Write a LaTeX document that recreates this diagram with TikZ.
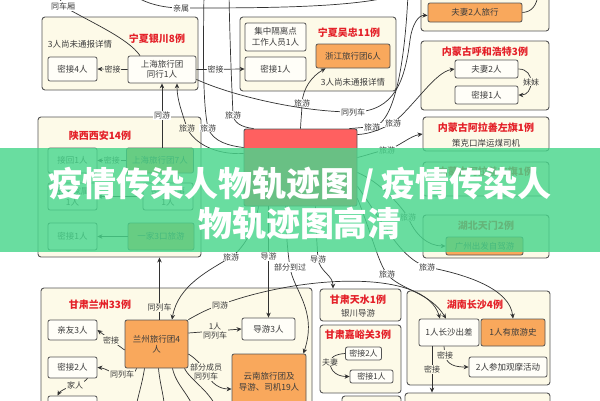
\documentclass[tikz,border=0pt]{standalone}
\usepackage{fontspec}
\setmainfont{Noto Sans CJK SC}
\usetikzlibrary{arrows.meta}
\definecolor{cream}{RGB}{253,250,232}
\definecolor{innerc}{RGB}{255,254,248}
\definecolor{bd}{RGB}{85,85,85}
\definecolor{org}{RGB}{249,168,92}
\definecolor{ttlred}{RGB}{228,32,40}
\definecolor{lnc}{RGB}{50,50,50}
\definecolor{redbox}{RGB}{255,96,96}
\definecolor{band}{RGB}{72,214,140}
\definecolor{txt}{RGB}{60,60,60}
\tikzset{
  grp/.style={draw=bd, fill=cream, rounded corners=3pt, line width=0.9pt, inner sep=0pt},
  ibox/.style={draw=bd, fill=innerc, rounded corners=2pt, line width=0.8pt, inner sep=1pt, align=center, font=\fontsize{8.5}{10.5}\selectfont, text=txt},
  obox/.style={ibox, fill=org},
  sbox/.style={ibox, font=\fontsize{8}{9}\selectfont},
  gtitle/.style={font=\bfseries\fontsize{10}{12}\selectfont, text=ttlred, inner sep=0pt},
  note/.style={font=\fontsize{8.5}{10}\selectfont, text=txt, inner sep=0pt},
  lbl/.style={font=\fontsize{8}{9.5}\selectfont, text=txt, fill=white, inner sep=0.8pt, align=center},
  lblc/.style={lbl, fill=cream},
  arr/.style={draw=lnc, line width=0.7pt, -{Stealth[length=5pt,width=4.5pt]}},
  ln/.style={draw=lnc, line width=0.7pt},
  bigt/.style={font=\bfseries\fontsize{34}{40}\selectfont, text=white, align=center}
}
\begin{document}
\begin{tikzpicture}[x=1pt,y=-1pt]
\useasboundingbox (0,0) rectangle (600,400);
\clip (0,0) rectangle (600,400);
\fill[white] (0,0) rectangle (600,400);

% groups
\node[grp, minimum width=156pt, minimum height=73pt] (g1) at (120,53.5) {};
\node[grp, minimum width=156pt, minimum height=74pt] (g2) at (318,54) {};
\node[grp, minimum width=128pt, minimum height=51pt] (g3) at (485,5.5) {};
\node[grp, minimum width=128pt, minimum height=69pt] (g4) at (485,75.5) {};
\node[grp, minimum width=126pt, minimum height=34pt] (g5) at (486,134) {};
\node[grp, minimum width=126pt, minimum height=34pt] (g6) at (486,179) {};
\node[grp, minimum width=126pt, minimum height=43pt] (g7) at (486,236.5) {};
\node[grp, minimum width=163pt, minimum height=140pt] (g8) at (119.5,187) {};
\node[grp, minimum width=271pt, minimum height=132pt] (g9) at (176.5,354) {};
\node[grp, minimum width=81pt, minimum height=32pt] (g10) at (360.5,305) {};
\node[grp, minimum width=81pt, minimum height=68pt] (g11) at (360.5,359) {};
\node[grp, minimum width=59pt, minimum height=30pt] (g12) at (371.5,411) {};
\node[grp, minimum width=143pt, minimum height=94pt] (g13) at (478.5,338) {};
\node[grp, minimum width=145pt, minimum height=30pt] (g14) at (477.5,408) {};
\node[draw=bd, fill=redbox, line width=0.9pt, rounded corners=2pt, minimum width=113pt, minimum height=77pt, inner sep=0pt] (n_red) at (300.5,167.5) {};

% titles and notes
\node[gtitle] (t1) at (157,39) {宁夏银川8例};
\node[note] (t1b) at (80,44) {3人尚未通报详情};
\node[gtitle] (t2) at (349,33) {宁夏吴忠11例};
\node[note] (t2b) at (353,82) {3人尚未通报详情};
\node[gtitle] (t4) at (485,52) {内蒙古呼和浩特3例};
\node[gtitle] (t5) at (486,128) {内蒙古阿拉善左旗1例};
\node[note] (t5b) at (486,143) {策克口岸运煤司机};
\node[gtitle] (t6) at (486,172) {内蒙古阿拉善右旗1例};
\node[gtitle] (t7) at (486,226) {湖北天门2例};
\node[gtitle] (t8) at (100,136) {陕西西安14例};
\node[gtitle] (t9) at (100,305) {甘肃兰州33例};
\node[gtitle] (t10) at (358,300) {甘肃天水1例};
\node[note] (t10b) at (358,313) {银川导游};
\node[gtitle] (t11) at (358,335) {甘肃嘉峪关3例};
\node[gtitle] (t13) at (475,305) {湖南长沙4例};

% boxes
\node[ibox, minimum width=49pt, minimum height=24pt] (n_mj4) at (72.5,69) {密接4人};
\node[ibox, minimum width=68pt, minimum height=27pt] (n_sh1) at (162,69.5) {上海旅行团\\同行1人};
\node[ibox, minimum width=61pt, minimum height=28pt] (n_gl) at (275.5,37) {集中隔离点\\工作人员1人};
\node[ibox, minimum width=61pt, minimum height=24pt] (n_mj1a) at (275.5,69) {密接1人};
\node[obox, minimum width=74pt, minimum height=24pt] (n_zj) at (353,56) {浙江旅行团6人};
\node[obox, minimum width=94pt, minimum height=19pt] (n_fq2) at (475,12.5) {夫妻2人旅行};
\node[ibox, minimum width=63pt, minimum height=18pt] (n_fq) at (486.5,69) {夫妻2人};
\node[ibox, minimum width=63pt, minimum height=18pt] (n_mj1b) at (486.5,95) {密接1人};
\node[obox, minimum width=77pt, minimum height=18pt] (n_gz) at (484.5,246) {广州出发自驾游};
\node[ibox, minimum width=49pt, minimum height=25pt] (n_jh) at (72.5,160.5) {接回1人};
\node[obox, minimum width=67pt, minimum height=25pt] (n_sh7) at (160,160.5) {上海旅行团7人};
\node[ibox, minimum width=49pt, minimum height=27pt] (n_r2a) at (72.5,196.5) {密接家属\\1人};
\node[ibox, minimum width=50pt, minimum height=27pt] (n_r2b) at (168,196.5) {密接同事\\1人};
\node[ibox, minimum width=49pt, minimum height=27pt] (n_mj1c) at (72.5,236.5) {密接1人};
\node[obox, minimum width=66pt, minimum height=27pt] (n_yj) at (161,236.5) {一家3口旅游};
\node[ibox, minimum width=49pt, minimum height=20pt] (n_qy) at (72.5,330) {亲友3人};
\node[obox, minimum width=63pt, minimum height=48pt] (n_lz) at (156.5,344) {兰州旅行团4\\人};
\node[ibox, minimum width=49pt, minimum height=21pt] (n_mj2) at (72.5,367.5) {密接2人};
\node[ibox, minimum width=49pt, minimum height=24pt] (n_bl) at (72.5,408) {};
\node[ibox, minimum width=53pt, minimum height=22pt] (n_dy) at (268.5,329) {导游3人};
\node[obox, minimum width=74pt, minimum height=56pt] (n_yn) at (269,382) {云南旅行团及\\导游、司机19人};
\node[sbox, minimum width=36pt, minimum height=13pt] (n_mj2b) at (363.5,353.5) {密接2人};
\node[sbox, minimum width=43pt, minimum height=13pt] (n_mj1d) at (371.5,376.5) {密接1人};
\node[ibox, minimum width=60pt, minimum height=27pt] (n_cs) at (449,332.5) {1人长沙出差};
\node[obox, minimum width=64pt, minimum height=27pt] (n_ly) at (513,332.5) {1人有旅游史};
\node[ibox, minimum width=78pt, minimum height=20pt] (n_gm) at (508,367) {2人参加观摩活动};

% off-picture ends
\coordinate (top1) at (204,-6);
\coordinate (top2) at (229,-6);
\coordinate (top3) at (58,-6);
\coordinate (top4) at (132,-6);
\coordinate (top5) at (400,-6);
\coordinate (top6) at (538,-6);
\coordinate (top7) at (408,-6);
\coordinate (b1) at (135,412);
\coordinate (b2) at (165,412);
\coordinate (b3) at (195,412);
\coordinate (b4) at (218,412);

% connectors
\draw[arr] (n_sh1.west) -- node[lblc]{密接} (n_mj4.east);
\draw[arr] (n_sh1.east) -- node[lbl, pos=0.4]{密接} (n_mj1a.west);
\draw[arr] (n_sh7.west) -- node[lblc]{密接} (n_jh.east);
\draw[arr] (n_r2b.west) -- (n_r2a.east);
\draw[arr] (n_yj.west) -- (n_mj1c.east);
\draw[arr] ([xshift=2pt]n_sh7.north) -- node[lbl]{同游} ([xshift=2pt]n_sh7.north |- n_sh1.south);
\draw[arr] ([yshift=14pt]n_red.west) .. controls (215,155) and (194,143) .. (187,128) node[lblc]{旅游} .. controls (182,112) and (177,100) .. ([xshift=15pt]n_sh1.south);
\draw[ln] (top1) .. controls (203,60) and (203,105) .. (208,128) node[lbl]{旅游} .. controls (213,142) and (230,146) .. ([yshift=20pt]n_red.west);
\draw[ln] (top2) .. controls (230,50) and (232,90) .. (233,115) node[lbl]{旅游} .. controls (234,122) and (240,127) .. ([xshift=10pt]n_red.north west);
\draw[ln] (top3) -- (63,6) node[lbl]{同车厢} .. controls (90,22) and (128,38) .. ([xshift=-22pt]n_sh1.north);
\draw[ln] (top4) .. controls (145,4) and (165,8) .. (181,8) node[lbl]{亲属} .. controls (260,8) and (360,8) .. (top5);
\draw[arr] (n_red.north) .. controls (301,118) and (302,110) .. (302,103) node[lbl]{旅游} .. controls (303,88) and (312,76) .. ([xshift=10pt]n_zj.south west);
\draw[arr] ([yshift=4pt]n_sh1.south east) .. controls (230,95) and (300,112) .. (353,112) node[lbl]{同列车} .. controls (395,112) and (405,80) .. (410,40) .. controls (412,25) and (418,15) .. ([yshift=-3pt]n_fq2.west);
\draw[ln] ([xshift=-8pt]n_red.north east) .. controls (358,128) and (365,127) .. (372,127) node[lbl]{旅游} .. controls (395,125) and (405,60) .. (top7);
\draw[arr] ([yshift=-6pt]n_red.north east) .. controls (372,134) and (385,127) .. (393,123) node[lbl]{旅游} .. controls (415,105) and (435,72) .. (n_fq.west);
\draw[arr] ([yshift=10pt]n_red.east) .. controls (368,155) and (378,151) .. (387,150) node[lbl]{旅游} .. controls (400,146) and (410,136) .. (g5.west);
\draw[arr] ([yshift=-5pt]n_red.east) .. controls (380,182) and (400,205) .. (408,217) node[lbl]{旅游} .. controls (415,235) and (428,246) .. (n_gz.west);
\draw[arr] (n_dy.north |- n_red.south) -- node[lbl, pos=0.45]{导游} (n_dy.north);
\draw[arr] ([xshift=-15pt]n_red.south) .. controls (286,235) and (288,255) .. (290,267) node[lbl]{部分到过} .. controls (293,290) and (318,310) .. ([xshift=-3pt]n_yn.north east);
\draw[arr] ([xshift=15pt]n_red.south) .. controls (316,230) and (317,245) .. (318,259) node[lbl]{导游} .. controls (320,272) and (333,275) .. ([xshift=-27.5pt]g10.north);
\draw[arr] ([xshift=-42pt]n_red.south) .. controls (255,230) and (242,250) .. (231,257) node[lbl]{旅游} .. controls (210,270) and (178,285) .. ([xshift=15.5pt]n_lz.north);
\draw[arr] ([xshift=3pt]n_lz.north) -- node[lblc, pos=0.2]{同列车} ([xshift=3pt]n_lz.north |- g8.south);
\draw[arr] ([yshift=-6pt]n_lz.west) -- node[lblc]{密接} (n_qy.east);
\draw[arr] ([xshift=12pt]n_lz.south west) .. controls (136,373) and (130,374) .. (122,374) node[lblc]{同列车} .. controls (112,374) and (105,368) .. (n_mj2.east);
\draw[arr] ([xshift=15pt]n_mj2.south) .. controls (86,381) and (80,384) .. (75,385) node[lblc]{家人} .. controls (68,387) and (60,391) .. ([xshift=-15pt]n_bl.north);
\draw[arr] ([yshift=11pt]n_lz.east) -- node[lblc]{1人\\同列车} (n_dy.west);
\draw[arr] ([yshift=-10pt]n_lz.east) .. controls (195,358) and (201,364) .. (206,372) node[lblc]{部分成员\\同列车} .. controls (211,384) and (220,389) .. ([yshift=-7pt]n_yn.west);
\draw[arr] (n_lz.north east) .. controls (200,313) and (210,308) .. (220,305) node[lblc]{同游} .. controls (300,275) and (425,268) .. ([xshift=-9pt]n_cs.north);
\draw[arr] ([yshift=8pt]n_red.south east) .. controls (372,235) and (378,262) .. (387,274) node[lbl]{旅游} .. controls (400,290) and (430,292) .. ([xshift=-3pt]n_cs.north);
\draw[arr] ([yshift=20pt]n_red.south east) .. controls (385,225) and (400,258) .. (427,267) node[lbl]{旅游} .. controls (470,275) and (510,290) .. (n_ly.north);
\draw[arr] (n_fq.east) .. controls (527,69) and (531,75) .. (531,82) node[lblc]{妹妹} .. controls (531,90) and (527,95) .. (n_mj1b.east);
\draw[arr] (n_mj2b.west) .. controls (335,354) and (330,358) .. (330,362) node[lblc]{夫妻} .. controls (330,372) and (338,376.5) .. (n_mj1d.west);
\draw[arr] ([xshift=-5pt]n_cs.south) .. controls (444,350) and (445,352) .. (445,355) node[lblc]{密接} .. controls (447,365) and (455,367) .. (n_gm.west);
\draw[arr] ([xshift=-17pt]n_cs.south) -- node[lblc]{密接} ([xshift=-17pt]n_cs.south |- g14.north);
\draw[ln] (n_fq2.east) .. controls (532,12) and (537,5) .. (top6);
\draw[ln] ([xshift=-12pt]n_lz.south) .. controls (142,385) and (138,395) .. (b1);
\draw[ln] ([xshift=2pt]n_lz.south) .. controls (160,385) and (164,395) .. (b2);
\draw[ln] ([xshift=16pt]n_lz.south) .. controls (176,385) and (190,395) .. (b3);
\draw[ln] ([xshift=28pt]n_lz.south) .. controls (190,380) and (212,392) .. (b4);

% overlay band and title
\fill[band, opacity=0.82] (0,148) rectangle (600,252);
\node[bigt] (bt) at (300,204) {疫情传染人物轨迹图\hspace{7pt}/\hspace{7pt}疫情传染人\\物轨迹图高清};
\end{tikzpicture}
\end{document}
